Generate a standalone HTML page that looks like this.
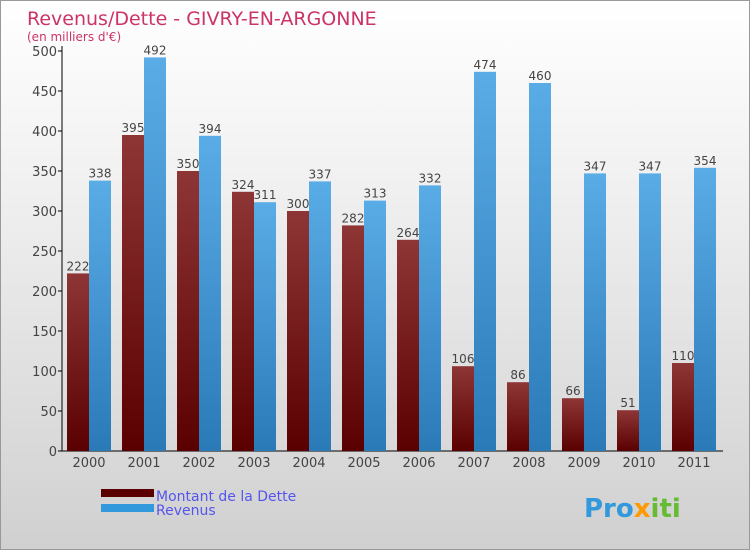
<!DOCTYPE html>
<html><head><meta charset="utf-8"><style>
body{margin:0}
#c{width:750px;height:550px;position:relative;background:linear-gradient(#ffffff,#f2f2f2 30%,#d0d0d0);font-family:"DejaVu Sans","Liberation Sans",sans-serif;border:1px solid #999;box-sizing:border-box}
</style></head><body>
<div id="c">
<svg id="s" width="750" height="550" style="position:absolute;left:0;top:0">
<defs>
<linearGradient id="gd" x1="0" y1="0" x2="0" y2="1"><stop offset="0" stop-color="#8e3535"/><stop offset="1" stop-color="#5a0000"/></linearGradient>
<linearGradient id="gr" x1="0" y1="0" x2="0" y2="1"><stop offset="0" stop-color="#5aace6"/><stop offset="1" stop-color="#2a7ab8"/></linearGradient>
</defs>
<text x="26" y="24" font-size="19" fill="#cc3366">Revenus/Dette - GIVRY-EN-ARGONNE</text>
<text x="26" y="40" font-size="12" fill="#cc3366">(en milliers d'€)</text>
<g id="plot"></g>
<rect x="100" y="488" width="53" height="8" fill="#5a0000"/>
<rect x="100" y="503" width="53" height="8" fill="#3399dd"/>
<text x="155" y="500" font-size="14" fill="#5555ee">Montant de la Dette</text>
<text x="155" y="514" font-size="14" fill="#5555ee">Revenus</text>
<text x="583" y="516" font-size="26" font-weight="bold" fill="#3399dd">Pro<tspan fill="#ff9900">x</tspan><tspan fill="#66bb33">iti</tspan></text>
</svg>
</div>
<script>
const years=["2000","2001","2002","2003","2004","2005","2006","2007","2008","2009","2010","2011"];
const dette=[222,395,350,324,300,282,264,106,86,66,51,110];
const revenus=[338,492,394,311,337,313,332,474,460,347,347,354];
const ticks=[0,50,100,150,200,250,300,350,400,450,500];
const NS="http://www.w3.org/2000/svg";
const g=document.getElementById("plot");
const x0=61,step=55,y0=450,k=0.8;
const y=v=>y0-v*k;
function mk(t,a){const e=document.createElementNS(NS,t);for(const n in a)e.setAttribute(n,a[n]);g.appendChild(e);return e;}
let ax=mk("line",{x1:x0,y1:45,x2:x0,y2:y0,stroke:"#000"});


let bx=mk("line",{x1:x0,y1:y0,x2:722,y2:y0,stroke:"#000"});


ticks.forEach(t=>{
  let l=mk("line",{x1:x0-4,y1:y(t),x2:x0,y2:y(t),stroke:"#000"});
  
  
  let tx=mk("text",{x:x0-5,y:y(t)+5,"font-size":13,fill:"#444","text-anchor":"end"});
  tx.textContent=t;
  
  
});
years.forEach((yr,i)=>{
  const gx=x0+i*step;
  let tx=mk("text",{x:gx+27,y:466,"font-size":13,fill:"#444","text-anchor":"middle"});
  tx.textContent=yr;
  
  
  let r1=mk("rect",{x:gx+5,y:y(dette[i]),width:22,height:dette[i]*k,fill:"url(#gd)"});
  
  
  let r2=mk("rect",{x:gx+27,y:y(revenus[i]),width:22,height:revenus[i]*k,fill:"url(#gr)"});
  
  
  let l1=mk("text",{x:gx+16,y:y(dette[i])-3,"font-size":12,fill:"#444","text-anchor":"middle"});
  l1.textContent=dette[i];
  
  
  let l2=mk("text",{x:gx+38,y:y(revenus[i])-3,"font-size":12,fill:"#444","text-anchor":"middle"});
  l2.textContent=revenus[i];
  
  
});
</script>
</body></html>
